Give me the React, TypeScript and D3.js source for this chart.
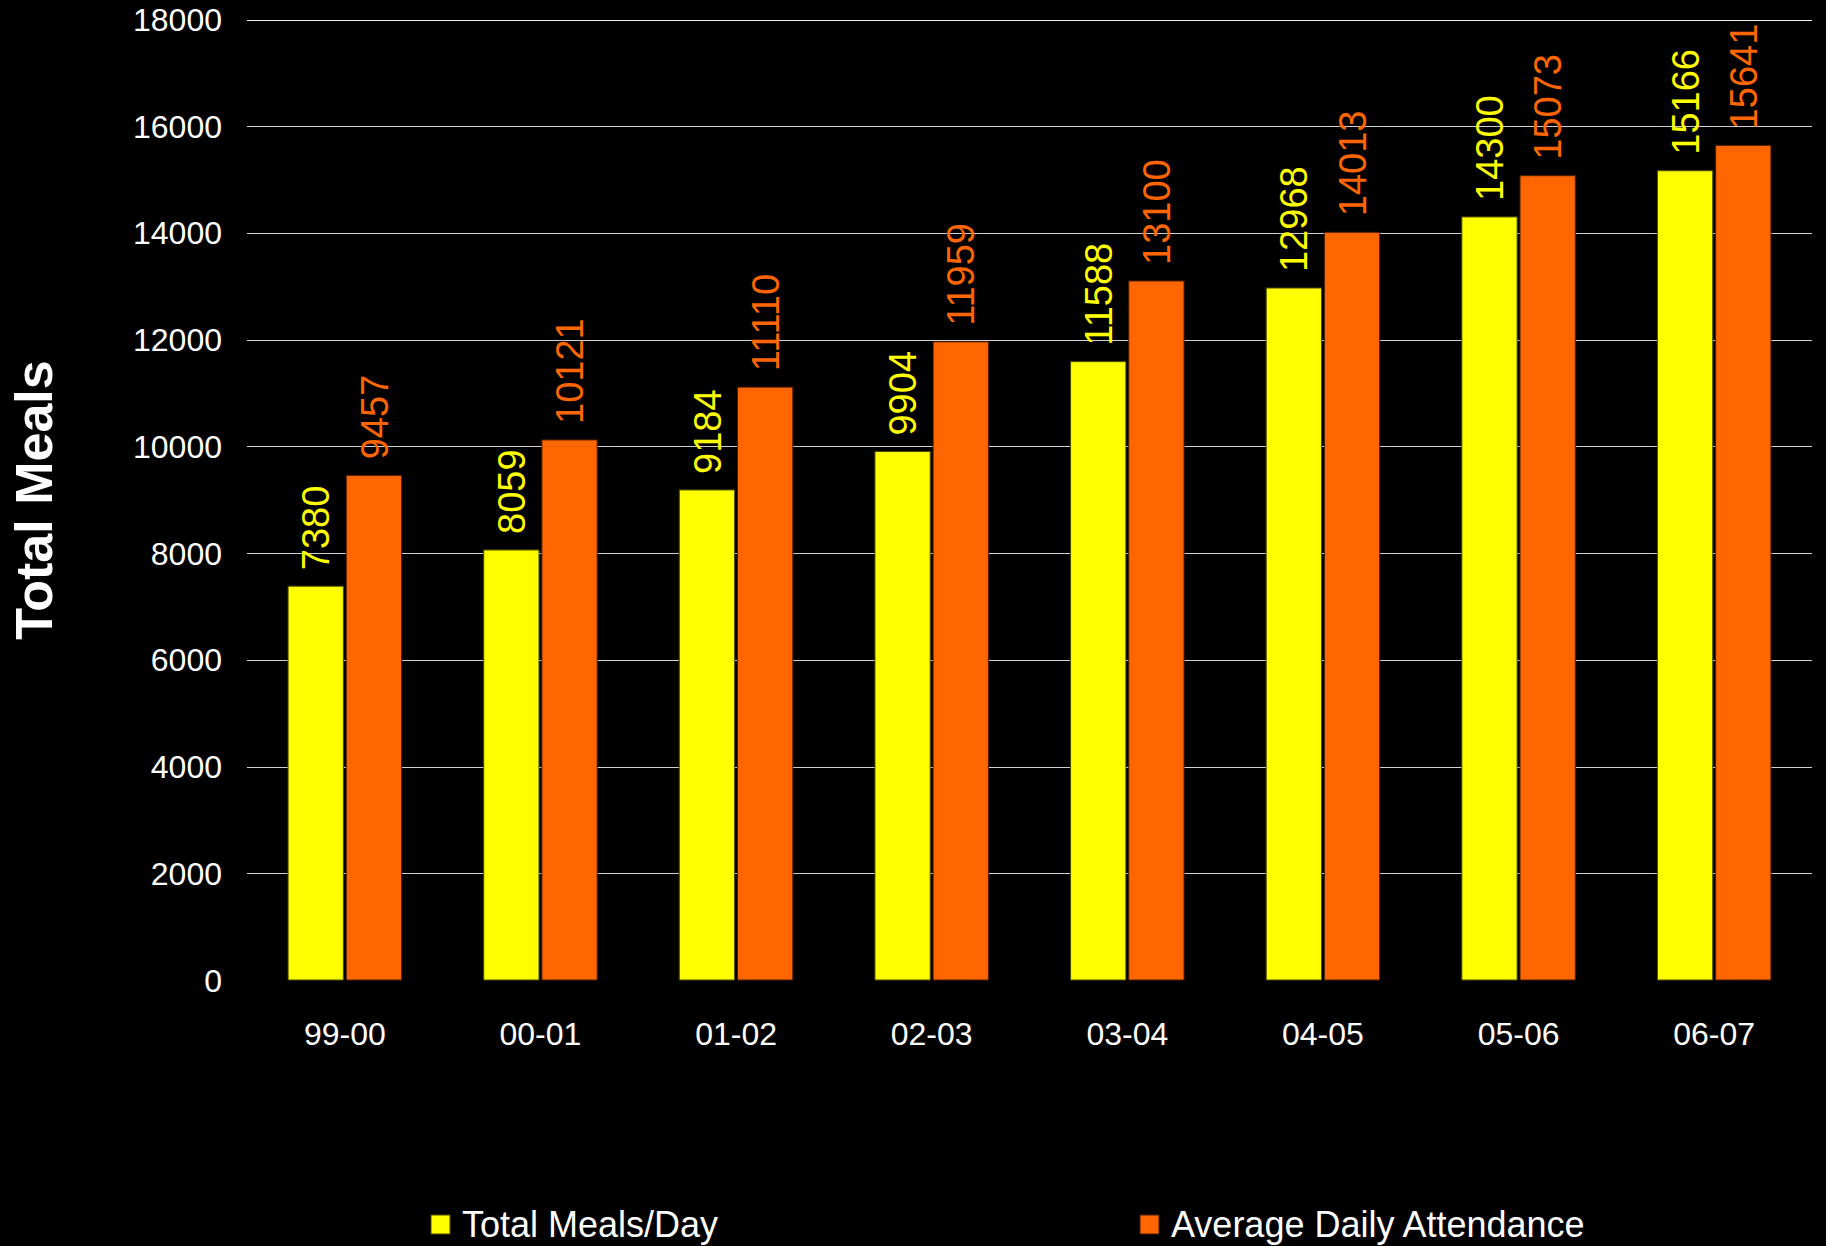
import React, { useEffect, useRef } from 'react';
import * as d3 from 'd3';

const categories = ['99-00', '00-01', '01-02', '02-03', '03-04', '04-05', '05-06', '06-07'];
const totalMeals = [7380, 8059, 9184, 9904, 11588, 12968, 14300, 15166];
const attendance = [9457, 10121, 11110, 11959, 13100, 14013, 15073, 15641];
const yTicks = [0, 2000, 4000, 6000, 8000, 10000, 12000, 14000, 16000, 18000];
const seriesNames = ['Total Meals/Day', 'Average Daily Attendance'];
const seriesColors = ['#FFFF00', '#FF6600'];
const seriesStrokes = ['#4d4d00', '#4d1f00'];

const App = () => {
    const svgRef = useRef(null);

    useEffect(() => {
        const svg = d3.select(svgRef.current);
        const width = 1826;
        const height = 1246;
        const marginLeft = 247;
        const plotRight = 1812;
        const yTop = 19.5;
        const yBottom = 980;

        svg.attr('width', width).attr('height', height).selectAll('*').remove();

        svg.append('rect').attr('width', width).attr('height', height).attr('fill', '#000');

        const x0 = d3.scaleBand()
            .domain(categories)
            .range([marginLeft, plotRight])
            .paddingInner(0.42)
            .paddingOuter(0.21);

        const x1 = d3.scaleBand()
            .domain(['0', '1'])
            .range([0, x0.bandwidth()])
            .paddingInner(0.05);

        const y = d3.scaleLinear().domain([0, 18000]).range([yBottom, yTop]);

        // gridlines
        svg.append('g')
            .selectAll('line')
            .data(yTicks.filter(t => t > 0))
            .enter()
            .append('line')
            .attr('x1', marginLeft)
            .attr('x2', plotRight)
            .attr('y1', d => Math.round(y(d)) + 0.5)
            .attr('y2', d => Math.round(y(d)) + 0.5)
            .attr('stroke', d => d === 18000 ? '#f2f2f2' : '#cfcfcf')
            .attr('stroke-width', 1.2);

        // y tick labels
        svg.append('g')
            .selectAll('text')
            .data(yTicks)
            .enter()
            .append('text')
            .attr('x', 222)
            .attr('y', d => y(d))
            .attr('dy', '0.36em')
            .attr('text-anchor', 'end')
            .attr('fill', '#fff')
            .attr('font-family', 'Liberation Sans, Arial, sans-serif')
            .attr('font-size', 32)
            .text(d => d);

        const series = [totalMeals, attendance];

        series.forEach((values, si) => {
            const rows = categories.map((c, i) => ({ c, v: values[i] }));
            const g = svg.append('g');
            g.selectAll('rect')
                .data(rows)
                .enter()
                .append('rect')
                .attr('x', d => x0(d.c) + x1(String(si)))
                .attr('y', d => y(d.v))
                .attr('width', x1.bandwidth())
                .attr('height', d => y(0) - y(d.v))
                .attr('fill', seriesColors[si])
                .attr('stroke', seriesStrokes[si])
                .attr('stroke-width', 1);

            g.selectAll('text')
                .data(rows)
                .enter()
                .append('text')
                .attr('transform', d => {
                    const cx = x0(d.c) + x1(String(si)) + x1.bandwidth() / 2;
                    return `translate(${cx + 13.6}, ${y(d.v) - 16}) rotate(-90)`;
                })
                .attr('text-anchor', 'start')
                .attr('fill', seriesColors[si])
                .attr('font-family', 'Liberation Sans, Arial, sans-serif')
                .attr('font-size', 38)
                .text(d => d.v);
        });

        // x labels
        svg.append('g')
            .selectAll('text')
            .data(categories)
            .enter()
            .append('text')
            .attr('x', d => x0(d) + x0.bandwidth() / 2)
            .attr('y', 1045)
            .attr('text-anchor', 'middle')
            .attr('fill', '#fff')
            .attr('font-family', 'Liberation Sans, Arial, sans-serif')
            .attr('font-size', 32)
            .text(d => d);

        // y axis title
        svg.append('text')
            .attr('transform', 'translate(52, 500) rotate(-90)')
            .attr('text-anchor', 'middle')
            .attr('fill', '#fff')
            .attr('font-family', 'Liberation Sans, Arial, sans-serif')
            .attr('font-weight', 'bold')
            .attr('font-size', 52)
            .text('Total Meals');

        // legend
        const legendX = [431, 1140];
        const legend = svg.append('g');
        seriesNames.forEach((name, i) => {
            legend.append('rect')
                .attr('x', legendX[i])
                .attr('y', 1215)
                .attr('width', 19)
                .attr('height', 19)
                .attr('fill', seriesColors[i])
                .attr('stroke', seriesStrokes[i]);
            legend.append('text')
                .attr('x', legendX[i] + 31)
                .attr('y', 1237)
                .attr('fill', '#fff')
                .attr('font-family', 'Liberation Sans, Arial, sans-serif')
                .attr('font-size', 36)
                .text(name);
        });
    }, []);

    return <svg ref={svgRef} style={{ position: 'absolute', left: 0, top: 0, display: 'block' }}></svg>;
};

export default App;
